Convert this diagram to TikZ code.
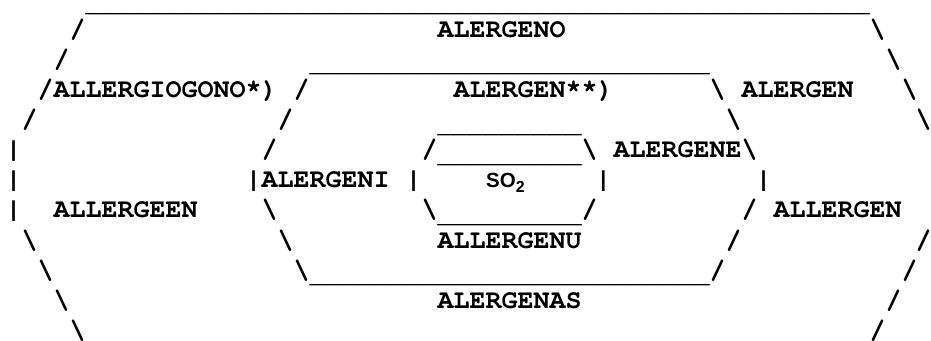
\documentclass[tikz,border=0pt]{standalone}
\usepackage{fontspec}
\newfontfamily\curfont{TeX Gyre Cursor}
\newfontfamily\sofont{Liberation Sans}
\ExplSyntaxOn
\cs_new:Npn \repchars #1#2 { \prg_replicate:nn {#1} {#2} }
\ExplSyntaxOff
\newcommand\usc[1]{\raisebox{-4.8pt}{\repchars{#1}{\_}}}
\newcommand\bsl{\textbackslash}
\tikzset{art/.style={anchor=base west, inner sep=0pt, outer sep=0pt,
  font=\curfont\bfseries\fontsize{26.67}{30}\selectfont, text=black},
  edgechar/.style={art, anchor=base}}
\newcommand\artcell[4]{\node[art] (#1) at ({5.5+16*(#2)},{-6.9-30.14*(#3)}) {#4};}
\begin{document}
\begin{tikzpicture}[x=1pt,y=1pt]
\useasboundingbox (0,0) rectangle (931,-340);
% row 0
\artcell{r0a}{5}{0}{\usc{49}}
% row 1
\artcell{r1a}{4}{1}{/}
\artcell{r1b}{27}{1}{ALERGENO}
\artcell{r1c}{54}{1}{\bsl}
% row 2
\artcell{r2a}{3}{2}{/}
\artcell{r2b}{19}{2}{\usc{25}}
\artcell{r2c}{55}{2}{\bsl}
% row 3
\artcell{r3a}{2}{3}{/ALLERGIOGONO*)}
\artcell{r3b}{18}{3}{/}
\artcell{r3c}{28}{3}{ALERGEN**)}
\artcell{r3d}{44}{3}{\bsl}
\artcell{r3e}{46}{3}{ALERGEN}
\artcell{r3f}{56}{3}{\bsl}
% row 4
\artcell{r4a}{1}{4}{/}
\artcell{r4b}{17}{4}{/}
\artcell{r4c}{27}{4}{\usc{9}}
\artcell{r4d}{45}{4}{\bsl}
\node[edgechar] (r4e) at (923.5,{-6.9-30.14*4}) {\makebox[8pt]{\bsl}};
% row 5
\artcell{r5a}{0}{5}{|}
\artcell{r5b}{16}{5}{/}
\artcell{r5c}{26}{5}{/\usc{9}\bsl}
\artcell{r5d}{38}{5}{ALERGENE\bsl}
% row 6
\artcell{r6a}{0}{6}{|}
\artcell{r6b}{15}{6}{|ALERGENI}
\artcell{r6c}{25}{6}{|}
\node[anchor=base west, inner sep=0pt] (so2) at (486,{-6.9-30.14*6})
  {\sofont\bfseries\fontsize{20.5}{24}\selectfont SO\raisebox{-5pt}{\fontsize{16}{18}\selectfont 2}};
\node[edgechar] (r6d) at (603.3,{-6.9-30.14*6}) {|};
\node[edgechar] (r6e) at (763.5,{-6.9-30.14*6}) {|};
% row 7
\artcell{r7a}{0}{7}{|}
\artcell{r7b}{3}{7}{ALLERGEEN}
\artcell{r7c}{16}{7}{\bsl}
\artcell{r7d}{26}{7}{\bsl\usc{9}/}
\artcell{r7e}{46}{7}{/}
\artcell{r7f}{48}{7}{ALLERGEN}
% row 8
\artcell{r8a}{1}{8}{\bsl}
\artcell{r8b}{17}{8}{\bsl}
\artcell{r8c}{27}{8}{ALLERGENU}
\artcell{r8d}{45}{8}{/}
\node[edgechar] (r8e) at (923.5,{-6.9-30.14*8}) {\makebox[8pt]{/}};
% row 9
\artcell{r9a}{2}{9}{\bsl}
\artcell{r9b}{18}{9}{\bsl\usc{25}/}
\artcell{r9c}{56}{9}{/}
% row 10
\artcell{r10a}{3}{10}{\bsl}
\artcell{r10b}{27}{10}{ALERGENAS}
\artcell{r10c}{55}{10}{/}
% row 11
\artcell{r11a}{4}{11}{\bsl}
\artcell{r11b}{54}{11}{/}
\end{tikzpicture}
\end{document}
